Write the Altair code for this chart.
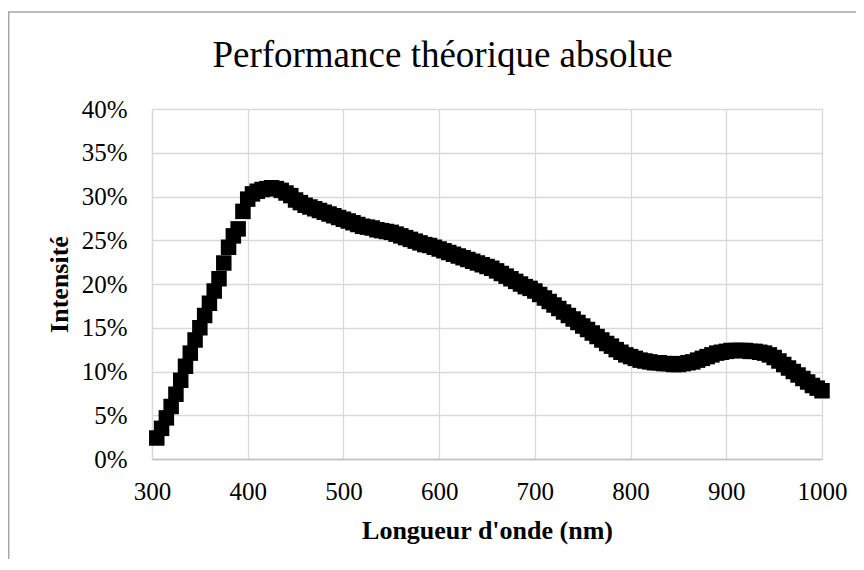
import altair as alt
import pandas as pd

wavelength_nm = list(range(305, 1001, 5))
intensity_pct = [
    2.4, 3.5, 4.7, 6.0, 7.4, 9.0, 10.6, 12.1, 13.6, 15.0,
    16.4, 17.8, 19.2, 20.6, 22.4, 24.2, 25.5, 26.3, 28.3, 29.7,
    30.3, 30.6, 30.8, 30.9, 31.0, 30.9, 30.7, 30.4, 30.1, 29.6,
    29.3, 29.0, 28.8, 28.6, 28.4, 28.2, 28.0, 27.8, 27.6, 27.4,
    27.2, 27.0, 26.8, 26.6, 26.5, 26.4, 26.2, 26.1, 26.0, 25.9,
    25.7, 25.5, 25.3, 25.1, 24.9, 24.7, 24.5, 24.4, 24.2, 24.0,
    23.8, 23.6, 23.4, 23.2, 23.0, 22.8, 22.6, 22.4, 22.2, 22.0,
    21.8, 21.5, 21.2, 20.9, 20.6, 20.3, 20.0, 19.7, 19.5, 19.2,
    18.8, 18.4, 18.0, 17.6, 17.2, 16.8, 16.4, 16.0, 15.6, 15.2,
    14.8, 14.4, 14.0, 13.6, 13.2, 12.9, 12.5, 12.2, 11.9, 11.7,
    11.5, 11.3, 11.2, 11.1, 11.0, 11.0, 10.9, 10.9, 10.8, 10.8,
    10.9, 11.0, 11.1, 11.3, 11.5, 11.7, 11.9, 12.1, 12.2, 12.3,
    12.4, 12.4, 12.4, 12.4, 12.3, 12.3, 12.2, 12.1, 11.9, 11.6,
    11.2, 10.8, 10.4, 10.0, 9.6, 9.2, 8.8, 8.4, 8.1, 7.8,
]
x_ticks = [300, 400, 500, 600, 700, 800, 900, 1000]
y_ticks = [0, 0.05, 0.10, 0.15, 0.20, 0.25, 0.30, 0.35, 0.40]
chart_title = ["Performance théorique absolue"]

df = pd.DataFrame({
    "wl": wavelength_nm,
    "val": [v / 100 for v in intensity_pct],
})
title_df = pd.DataFrame({"t": chart_title})

FONT = "Liberation Serif"

points = alt.Chart(df).mark_point(
    shape="square", filled=True, size=240, color="black", opacity=1
).encode(
    x=alt.X("wl:Q",
            scale=alt.Scale(domain=[300, 1000], nice=False, zero=False),
            axis=alt.Axis(values=x_ticks, format="d",
                          labelFont=FONT, labelFontSize=25, labelColor="black",
                          labelPadding=40, labelBaseline="alphabetic",
                          labelFlush=False, labelOverlap=False,
                          ticks=False, tickSize=0,
                          domainColor="#bfbfbf", domainWidth=1.5,
                          gridColor="#d9d9d9", gridWidth=1.3,
                          title="Longueur d'onde (nm)",
                          titleFont=FONT, titleFontSize=26, titleFontWeight="bold",
                          titleColor="black", titleY=79, titleBaseline="alphabetic")),
    y=alt.Y("val:Q",
            scale=alt.Scale(domain=[0, 0.4], nice=False),
            axis=alt.Axis(values=y_ticks, format=".0%",
                          labelFont=FONT, labelFontSize=25, labelColor="black",
                          labelPadding=25, labelFlush=False, labelOverlap=False,
                          ticks=False, tickSize=0,
                          domainColor="#d9d9d9", domainWidth=1.3,
                          gridColor="#d9d9d9", gridWidth=1.3,
                          title="Intensité",
                          titleFont=FONT, titleFontSize=26, titleFontWeight="bold",
                          titleColor="black", titleX=-93, titleY=175,
                          titleAngle=-90, titleAlign="center", titleBaseline="middle")),
)

title_mark = alt.Chart(title_df).mark_text(
    font=FONT, fontSize=37, color="black", align="center", baseline="alphabetic"
).encode(text="t:N", x=alt.value(290.5), y=alt.value(-42))

border_left = alt.Chart(title_df).mark_rule(color="#a6a6a6", strokeWidth=1.5).encode(
    x=alt.value(-143.3), y=alt.value(-97), y2=alt.value(460)
)
border_top = alt.Chart(title_df).mark_rule(color="#a6a6a6", strokeWidth=1.5).encode(
    x=alt.value(-144), x2=alt.value(720), y=alt.value(-97)
)

chart = alt.layer(border_left, border_top, title_mark, points).properties(
    width=670,
    height=350,
    autosize=alt.AutoSizeParams(type="none"),
    padding={"left": 144, "top": 101, "right": 34, "bottom": 100},
).configure_view(stroke=None).configure(background="white")

chart.save("out.html", embed_options={"renderer": "svg", "actions": False})
